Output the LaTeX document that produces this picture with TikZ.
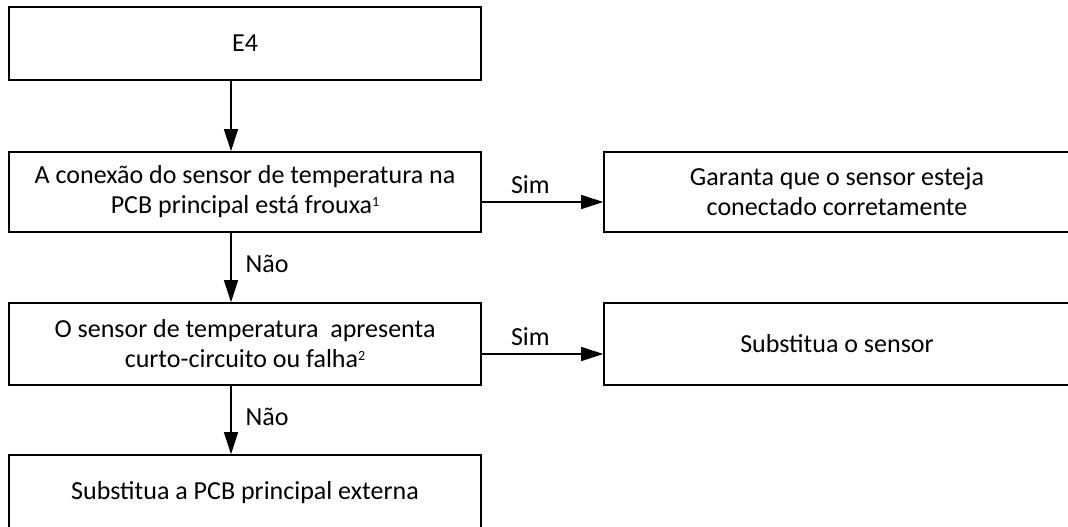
\documentclass[tikz,border=0pt]{standalone}
\usepackage{fontspec}
\setmainfont{Carlito}
\usetikzlibrary{arrows.meta}
\newcommand{\supnum}[1]{\raisebox{0.3em}{\fontsize{14}{14}\selectfont #1}}
\begin{document}
\begin{tikzpicture}[x=1pt,y=-1pt,
  box/.style={draw=black, line width=1.6pt, rectangle, align=center, inner sep=0pt,
    font=\fontsize{26}{30}\selectfont},
  flow/.style={line width=1.3pt, -{Triangle[length=22pt,width=14pt]}},
  lbl/.style={font=\fontsize{26}{30}\selectfont, inner sep=0pt}
]
\useasboundingbox (0,0) rectangle (1068,527);
\clip (0,0) rectangle (1068,527);
\node[box, minimum width=472pt, minimum height=73pt] (b1) at (245,43.5) {E4};
\node[box, minimum width=472pt, minimum height=80pt] (b2) at (245,192)
  {A conexão do sensor de temperatura na\\PCB principal está frouxa\supnum{1}};
\node[box, minimum width=466pt, minimum height=80pt] (b3) at (837,192)
  {Garanta que o sensor esteja\\conectado corretamente};
\node[box, minimum width=472pt, minimum height=82pt] (b4) at (245,344)
  {O sensor de temperatura~ apresenta\\curto-circuito ou falha\supnum{2}};
\node[box, minimum width=466pt, minimum height=82pt] (b5) at (837,344)
  {Substitua o sensor};
\node[box, minimum width=472pt, minimum height=76pt] (b6) at (245,493)
  {Substitua a PCB principal externa};

\draw[flow] ([xshift=-14pt]b1.south) -- ([xshift=-14pt]b2.north);
\draw[flow] ([xshift=-14pt]b2.south) -- node[lbl, right=14pt, pos=0.45] {Não} ([xshift=-14pt]b4.north);
\draw[flow] ([xshift=-14pt]b4.south) -- node[lbl, right=14pt, pos=0.45] {Não} ([xshift=-14pt]b6.north);
\draw[flow] ([yshift=-10pt]b2.east) -- node[lbl, above=8pt, pos=0.4] {Sim} ([yshift=-10pt]b3.west);
\draw[flow] ([yshift=-10pt]b4.east) -- node[lbl, above=8pt, pos=0.4] {Sim} ([yshift=-10pt]b5.west);
\end{tikzpicture}
\end{document}
